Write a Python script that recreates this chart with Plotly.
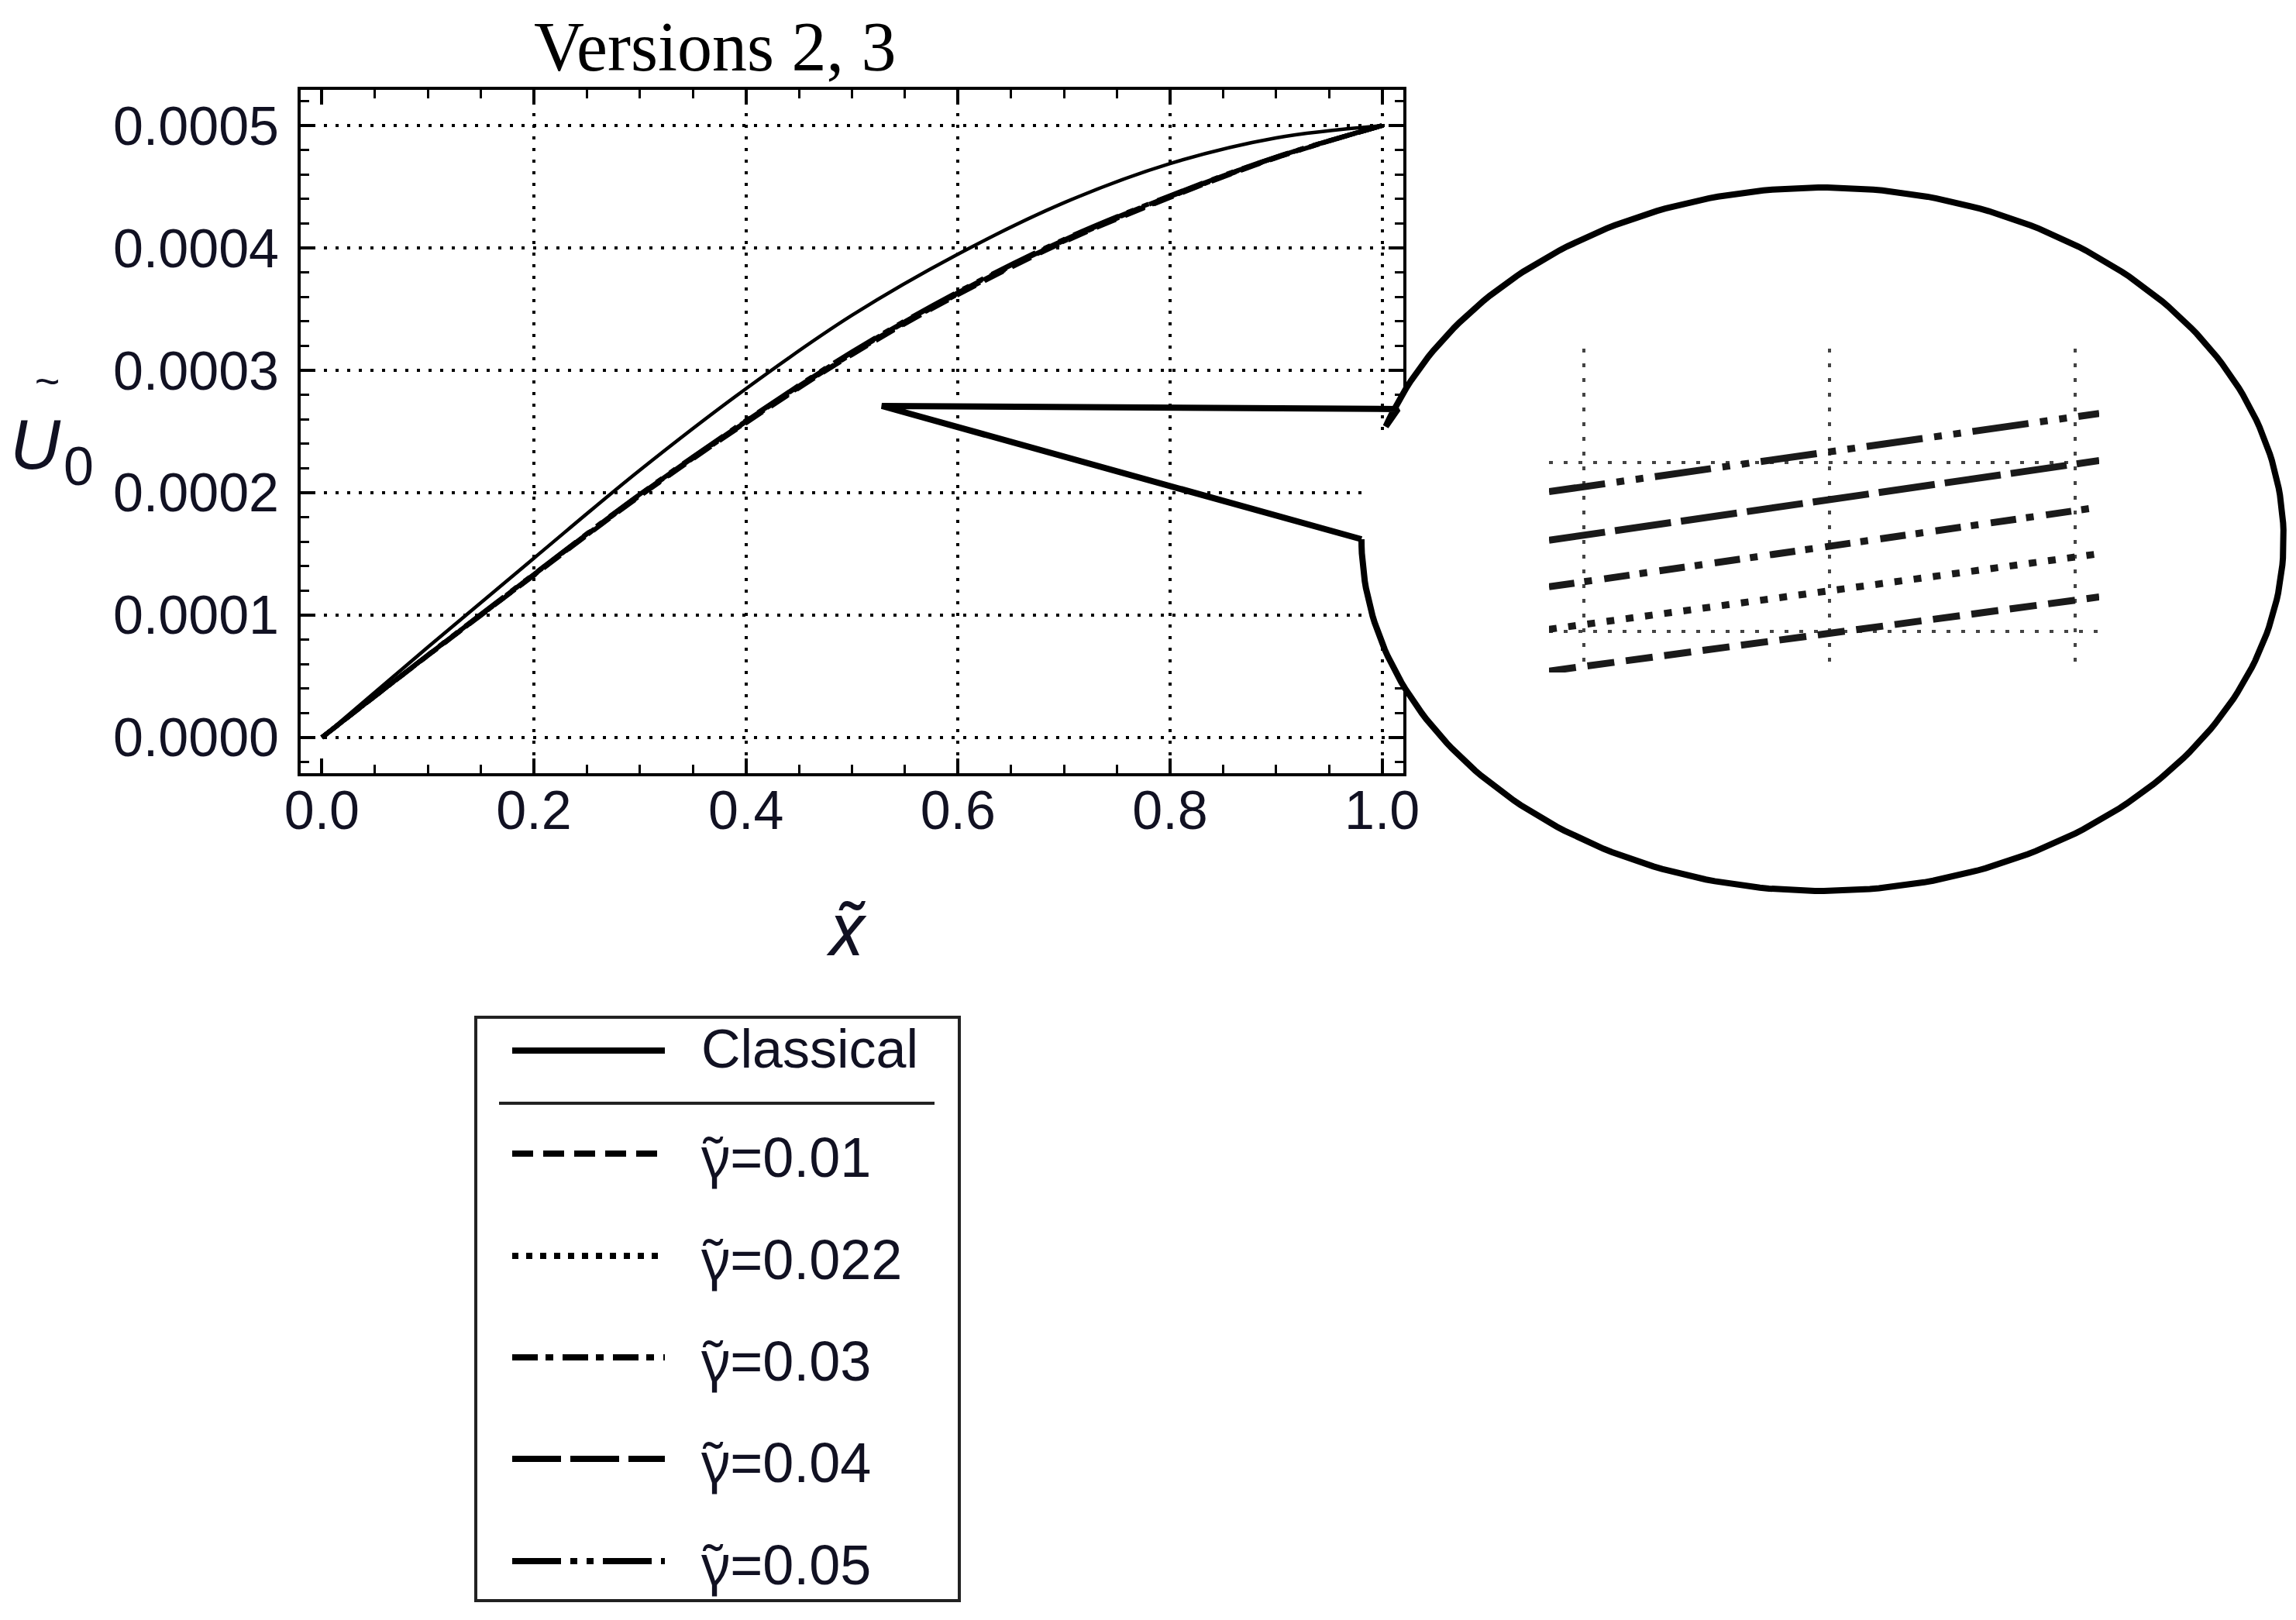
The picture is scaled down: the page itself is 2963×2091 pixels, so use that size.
import numpy as np
import plotly.graph_objects as go

W, H = 2963, 2091

# ---- values ----
x_tilde = [0.0, 0.1, 0.2, 0.3, 0.4, 0.5, 0.6, 0.7, 0.8, 0.9, 1.0]
u_classical = [0.0, 0.0000738, 0.0001465, 0.0002185, 0.000285, 0.000345, 0.000395, 0.000437, 0.000469, 0.000490, 0.0005]
u_g001 = [0.0, 0.0000669, 0.0001324, 0.0001972, 0.0002570, 0.0003128, 0.0003618, 0.0004049, 0.0004412, 0.0004736, 0.0005]
u_g0022 = [0.0, 0.0000670, 0.0001327, 0.0001976, 0.0002575, 0.0003134, 0.0003624, 0.0004055, 0.0004416, 0.0004738, 0.0005]
u_g003 = [0.0, 0.0000672, 0.0001330, 0.0001980, 0.0002580, 0.0003140, 0.0003630, 0.0004060, 0.0004420, 0.0004740, 0.0005]
u_g004 = [0.0, 0.0000673, 0.0001333, 0.0001984, 0.0002585, 0.0003146, 0.0003636, 0.0004066, 0.0004424, 0.0004742, 0.0005]
u_g005 = [0.0, 0.0000675, 0.0001336, 0.0001988, 0.0002590, 0.0003152, 0.0003642, 0.0004071, 0.0004428, 0.0004744, 0.0005]

gamma_labels = ["0.01", "0.022", "0.03", "0.04", "0.05"]

# magnified piece shown in the bubble (around x = 0.54)
inset_x = [0.539858, 0.542098]
inset_g001 = [0.00033441, 0.00033551]
inset_g0022 = [0.00033503, 0.00033615]
inset_g003 = [0.00033566, 0.00033684]
inset_g004 = [0.00033635, 0.00033753]
inset_g005 = [0.00033707, 0.00033823]

gamma_main = [u_g001, u_g0022, u_g003, u_g004, u_g005]
gamma_inset = [inset_g001, inset_g0022, inset_g003, inset_g004, inset_g005]

# dash patterns: dashed / dotted / dot-dashed / long dashed / dash-dot-dot
dash_legend = ["27px,13px", "8px,10px", "33px,10px,10px,12px", "63px,12px", "63px,12px,9px,12px,9px,12px"]
dash_inset = ["35px,15px", "10px,15px", "33px,13px,10px,16px", "73px,13px", "73px,15px,10px,15px,10px,15px"]

SANS = "Liberation Sans, Arial, sans-serif"
INK = "#111122"

fig = go.Figure()

# main curves
fig.add_trace(go.Scatter(x=x_tilde, y=u_classical, mode="lines", line=dict(color="black", width=4.5, shape="spline"),
                         xaxis="x", yaxis="y", hoverinfo="skip"))
for vals, d in zip(gamma_main, dash_legend):
    fig.add_trace(go.Scatter(x=x_tilde, y=vals, mode="lines", line=dict(color="black", width=6, dash=d, shape="spline"),
                             xaxis="x", yaxis="y", hoverinfo="skip"))

# callout bubble, drawn in pixel units on a full-page helper axis
cx, cy, rx, ry = 2352, 696, 595, 454
t = np.linspace(0, 2 * np.pi, 400)
fig.add_trace(go.Scatter(x=cx + rx * np.cos(t), y=cy + ry * np.sin(t), mode="lines", fill="toself",
                         fillcolor="white", line=dict(width=0), xaxis="x2", yaxis="y2", hoverinfo="skip"))
ta = np.arctan2(512 - cy, 1808 - cx) + 2 * np.pi
arc = np.linspace(ta, 3 * np.pi, 300)
ox = [1757, 1138, 1804] + list(cx + rx * np.cos(arc))
oy = [696, 524, 528] + list(cy + ry * np.sin(arc))
fig.add_trace(go.Scatter(x=ox, y=oy, mode="lines", line=dict(color="black", width=8), xaxis="x2", yaxis="y2",
                         hoverinfo="skip"))

# inset curves
for vals, d in zip(gamma_inset, dash_inset):
    fig.add_trace(go.Scatter(x=inset_x, y=vals, mode="lines", line=dict(color="#1a1a1a", width=9, dash=d),
                             xaxis="x3", yaxis="y3", hoverinfo="skip"))

axis_common = dict(showline=True, linecolor="black", linewidth=4, mirror="allticks", ticks="inside",
                   ticklen=19, tickwidth=4, tickcolor="black", showgrid=True, gridcolor="black",
                   gridwidth=3.5, griddash="4px,11px", automargin=False,
                   tickfont=dict(family=SANS, size=70, color=INK))

fig.update_layout(
    width=W, height=H, margin=dict(l=0, r=0, t=0, b=0, autoexpand=False),
    paper_bgcolor="white", plot_bgcolor="rgba(0,0,0,0)", showlegend=False,
    xaxis=dict(axis_common, domain=[388 / W, 1811 / W], range=[-0.02, 1.02], dtick=0.2, tick0=0,
               tickformat=".1f", zeroline=True, zerolinecolor="rgba(0,0,0,0)", ticklabelstandoff=-16,
               minor=dict(ticks="inside", ticklen=11, tickwidth=3, tickcolor="black", dtick=0.05, showgrid=False)),
    yaxis=dict(axis_common, domain=[1 - 998 / H, 1 - 116 / H], range=[-0.0000292, 0.0005292], dtick=0.0001,
               tick0=0, tickformat=".4f", zeroline=False, ticklabelstandoff=10,
               minor=dict(ticks="inside", ticklen=11, tickwidth=3, tickcolor="black", dtick=0.00002, showgrid=False)),
    xaxis2=dict(domain=[0, 1], range=[0, W], visible=False, fixedrange=True, automargin=False),
    yaxis2=dict(domain=[0, 1], range=[H, 0], visible=False, fixedrange=True, automargin=False),
    xaxis3=dict(domain=[1999 / W, 2709 / W], range=[inset_x[0], inset_x[1]], tick0=0.54, dtick=0.001,
                showgrid=True, gridcolor="#444", gridwidth=4, griddash="5px,14px", showline=False,
                zeroline=False, showticklabels=False, ticks="", automargin=False),
    yaxis3=dict(domain=[1 - 868 / H, 1 - 450 / H], range=[0.00033439, 0.00033919], tick0=0.000335,
                dtick=0.0000025, showgrid=True, gridcolor="#444", gridwidth=4, griddash="5px,14px",
                showline=False, zeroline=False, showticklabels=False, ticks="", automargin=False),
)

# legend box
shapes = [
    dict(type="rect", xref="x2", yref="y2", x0=614, x1=1238, y0=1313, y1=2066, line=dict(color="#222", width=4)),
    dict(type="line", xref="x2", yref="y2", x0=644, x1=1206, y0=1424, y1=1424, line=dict(color="#222", width=4)),
    dict(type="line", xref="x2", yref="y2", x0=661, x1=858, y0=1356, y1=1356, line=dict(color="black", width=8)),
]
row_y = [1489, 1621, 1752, 1883, 2015]
for ry_, d in zip(row_y, dash_legend):
    shapes.append(dict(type="line", xref="x2", yref="y2", x0=661, x1=858, y0=ry_, y1=ry_,
                       line=dict(color="black", width=8, dash=d)))
fig.update_layout(shapes=shapes)

NOTO = "font-family:Noto Sans"
ann = [
    dict(text="Versions 2, 3", x=923, y=60, size=90, family="Liberation Serif, Times New Roman, serif"),
    dict(text="<span style='font-size:56px'>\u00a0\u00a0~</span><br><span style='font-size:90px'><i>U</i></span>",
         x=46, y=542, size=72),
    dict(text="0", x=101, y=602, size=70),
    dict(text="<span style='" + NOTO + "'><i>x\u0303</i></span>", x=1092, y=1196, size=95),
    dict(text="Classical", x=903, y=1354, size=70, xanchor="left"),
]
for ry_, g in zip(row_y, gamma_labels):
    ann.append(dict(text="<span style='" + NOTO + "'>\u03b3\u0303</span>=" + g,
                    x=903, y=ry_ + 2, size=72, xanchor="left"))
for a in ann:
    fig.add_annotation(xref="x2", yref="y2", x=a["x"], y=a["y"], text=a["text"], showarrow=False,
                       xanchor=a.get("xanchor", "center"), yanchor="middle",
                       font=dict(family=a.get("family", SANS), size=a["size"],
                                 color="black" if "family" in a else INK))

fig.write_html("out.html", config={"displayModeBar": False}, post_script="document.body.style.margin='0px';")
